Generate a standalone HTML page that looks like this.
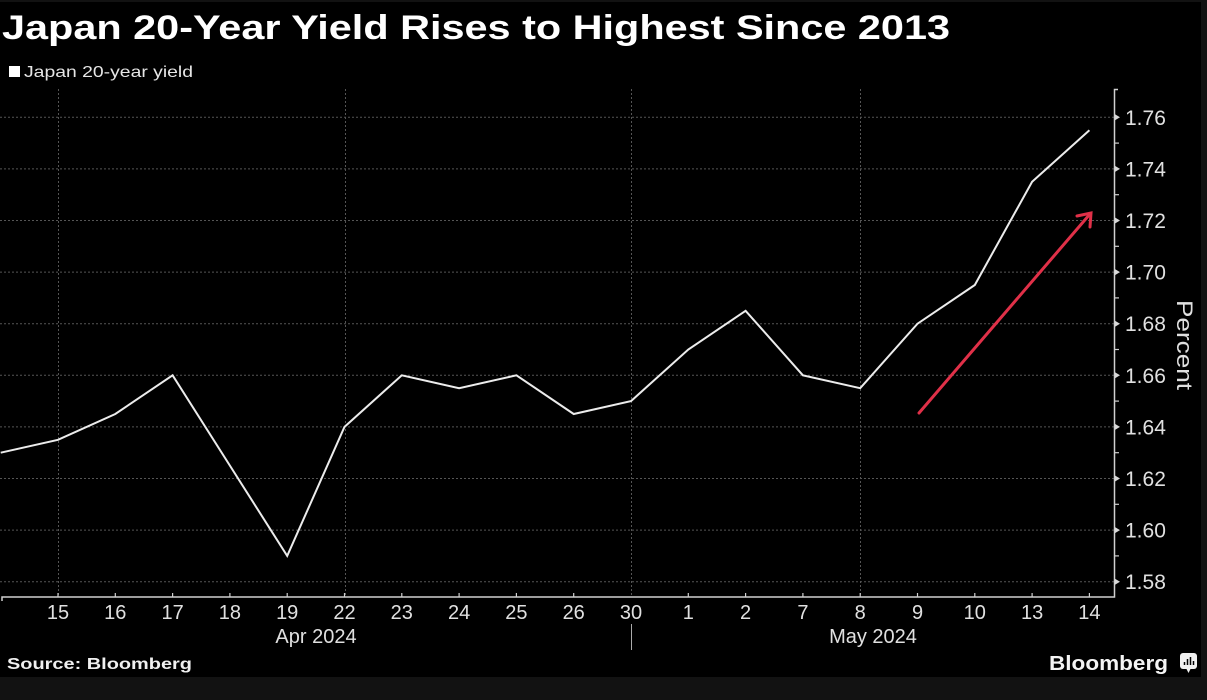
<!DOCTYPE html>
<html><head><meta charset="utf-8"><style>
html,body{margin:0;padding:0;background:#121212;}
svg{display:block;}
</style></head><body>
<svg width="1207" height="700" viewBox="0 0 1207 700" xmlns="http://www.w3.org/2000/svg" font-family="Liberation Sans, DejaVu Sans, sans-serif">
<rect x="0" y="0" width="1207" height="700" fill="#121212"/>
<rect x="0" y="2" width="1201" height="675" fill="#000"/>
<text x="2" y="39" fill="#fff" font-size="34" font-weight="bold" textLength="948" lengthAdjust="spacingAndGlyphs">Japan 20-Year Yield Rises to Highest Since 2013</text>
<rect x="9" y="66" width="11" height="11" fill="#fff"/>
<text x="24" y="77" fill="#e6e6e6" font-size="16" textLength="169" lengthAdjust="spacingAndGlyphs">Japan 20-year yield</text>
<g stroke="#555" stroke-width="1" stroke-dasharray="2,2">
<line x1="0" x2="1114" y1="117.3" y2="117.3"/>
<line x1="0" x2="1114" y1="168.9" y2="168.9"/>
<line x1="0" x2="1114" y1="220.5" y2="220.5"/>
<line x1="0" x2="1114" y1="272.1" y2="272.1"/>
<line x1="0" x2="1114" y1="323.7" y2="323.7"/>
<line x1="0" x2="1114" y1="375.3" y2="375.3"/>
<line x1="0" x2="1114" y1="426.9" y2="426.9"/>
<line x1="0" x2="1114" y1="478.5" y2="478.5"/>
<line x1="0" x2="1114" y1="530.1" y2="530.1"/>
<line x1="0" x2="1114" y1="581.7" y2="581.7"/>
<line x1="58.5" x2="58.5" y1="89" y2="597"/>
<line x1="345.5" x2="345.5" y1="89" y2="597"/>
<line x1="631.5" x2="631.5" y1="89" y2="597"/>
<line x1="860.5" x2="860.5" y1="89" y2="597"/>
</g>
<g stroke="#d0d0d0" stroke-width="1.5" fill="none">
<polyline points="1118,89.5 1114.5,89.5 1114.5,597 2,597 2,601"/>
<line x1="631.5" x2="631.5" y1="624" y2="650" stroke-width="1" stroke="#aaa"/>
</g>
<g stroke="#d0d0d0" stroke-width="1.2">
<line x1="1114" x2="1119" y1="143.1" y2="143.1"/>
<line x1="1114" x2="1119" y1="194.7" y2="194.7"/>
<line x1="1114" x2="1119" y1="246.3" y2="246.3"/>
<line x1="1114" x2="1119" y1="297.9" y2="297.9"/>
<line x1="1114" x2="1119" y1="349.5" y2="349.5"/>
<line x1="1114" x2="1119" y1="401.1" y2="401.1"/>
<line x1="1114" x2="1119" y1="452.7" y2="452.7"/>
<line x1="1114" x2="1119" y1="504.3" y2="504.3"/>
<line x1="1114" x2="1119" y1="555.9" y2="555.9"/>
</g>
<g fill="#d8d8d8">
<polygon points="1115,114.3 1120,117.3 1115,120.3"/>
<polygon points="1115,165.9 1120,168.9 1115,171.9"/>
<polygon points="1115,217.5 1120,220.5 1115,223.5"/>
<polygon points="1115,269.1 1120,272.1 1115,275.1"/>
<polygon points="1115,320.7 1120,323.7 1115,326.7"/>
<polygon points="1115,372.3 1120,375.3 1115,378.3"/>
<polygon points="1115,423.9 1120,426.9 1115,429.9"/>
<polygon points="1115,475.5 1120,478.5 1115,481.5"/>
<polygon points="1115,527.1 1120,530.1 1115,533.1"/>
<polygon points="1115,578.7 1120,581.7 1115,584.7"/>
</g>
<g stroke="#d0d0d0" stroke-width="1.2">
<line x1="58" x2="58" y1="593" y2="597"/>
<line x1="115.3" x2="115.3" y1="593" y2="597"/>
<line x1="172.6" x2="172.6" y1="593" y2="597"/>
<line x1="229.9" x2="229.9" y1="593" y2="597"/>
<line x1="287.2" x2="287.2" y1="593" y2="597"/>
<line x1="344.5" x2="344.5" y1="593" y2="597"/>
<line x1="401.8" x2="401.8" y1="593" y2="597"/>
<line x1="459.1" x2="459.1" y1="593" y2="597"/>
<line x1="516.4" x2="516.4" y1="593" y2="597"/>
<line x1="573.7" x2="573.7" y1="593" y2="597"/>
<line x1="688.3" x2="688.3" y1="593" y2="597"/>
<line x1="745.6" x2="745.6" y1="593" y2="597"/>
<line x1="802.9" x2="802.9" y1="593" y2="597"/>
<line x1="860.2" x2="860.2" y1="593" y2="597"/>
<line x1="917.5" x2="917.5" y1="593" y2="597"/>
<line x1="974.8" x2="974.8" y1="593" y2="597"/>
<line x1="1032.1" x2="1032.1" y1="593" y2="597"/>
<line x1="1089.4" x2="1089.4" y1="593" y2="597"/>
</g>
<g fill="#e0e0e0" font-size="21">
<text x="1125" y="124.8">1.76</text>
<text x="1125" y="176.4">1.74</text>
<text x="1125" y="228">1.72</text>
<text x="1125" y="279.6">1.70</text>
<text x="1125" y="331.2">1.68</text>
<text x="1125" y="382.8">1.66</text>
<text x="1125" y="434.4">1.64</text>
<text x="1125" y="486">1.62</text>
<text x="1125" y="537.6">1.60</text>
<text x="1125" y="589.2">1.58</text>
</g>
<text transform="translate(1177,300) rotate(90)" fill="#e0e0e0" font-size="22" textLength="90" lengthAdjust="spacingAndGlyphs">Percent</text>
<g fill="#e0e0e0" font-size="20" text-anchor="middle">
<text x="58" y="619">15</text>
<text x="115.3" y="619">16</text>
<text x="172.6" y="619">17</text>
<text x="229.9" y="619">18</text>
<text x="287.2" y="619">19</text>
<text x="344.5" y="619">22</text>
<text x="401.8" y="619">23</text>
<text x="459.1" y="619">24</text>
<text x="516.4" y="619">25</text>
<text x="573.7" y="619">26</text>
<text x="631" y="619">30</text>
<text x="688.3" y="619">1</text>
<text x="745.6" y="619">2</text>
<text x="802.9" y="619">7</text>
<text x="860.2" y="619">8</text>
<text x="917.5" y="619">9</text>
<text x="974.8" y="619">10</text>
<text x="1032.1" y="619">13</text>
<text x="1089.4" y="619">14</text>
<text x="316" y="643">Apr 2024</text>
<text x="873" y="643">May 2024</text>
</g>
<polyline fill="none" stroke="#ececec" stroke-width="2" stroke-linejoin="miter" points="0.7,452.7 58,439.8 115.3,414 172.6,375.3 229.9,465.6 287.2,555.9 344.5,426.9 401.8,375.3 459.1,388.2 516.4,375.3 573.7,414 631,401.1 688.3,349.5 745.6,310.8 802.9,375.3 860.2,388.2 917.5,323.7 974.8,285 1032.1,181.8 1089.4,130.2"/>
<g stroke="#e03048" stroke-width="3" stroke-linecap="round" fill="none">
<line x1="919" y1="413" x2="1090" y2="214"/>
<polyline points="1077,216 1091,213 1090,227"/>
</g>
<text x="7" y="669" fill="#f0f0f0" font-size="16" font-weight="bold" textLength="185" lengthAdjust="spacingAndGlyphs">Source: Bloomberg</text>
<text x="1049" y="670" fill="#f4f4f4" font-size="20" font-weight="bold" textLength="119" lengthAdjust="spacingAndGlyphs">Bloomberg</text>
<rect x="1180" y="653" width="17" height="16" rx="3" fill="#f0f0f0"/>
<polygon points="1186,668 1191,668 1188.5,673" fill="#f0f0f0"/>
<g stroke="#000" stroke-width="1.5">
<line x1="1184.5" y1="665" x2="1184.5" y2="662"/>
<line x1="1187.5" y1="665" x2="1187.5" y2="659"/>
<line x1="1190.5" y1="665" x2="1190.5" y2="657"/>
<line x1="1193.5" y1="665" x2="1193.5" y2="661"/>
</g>
</svg>
</body></html>
